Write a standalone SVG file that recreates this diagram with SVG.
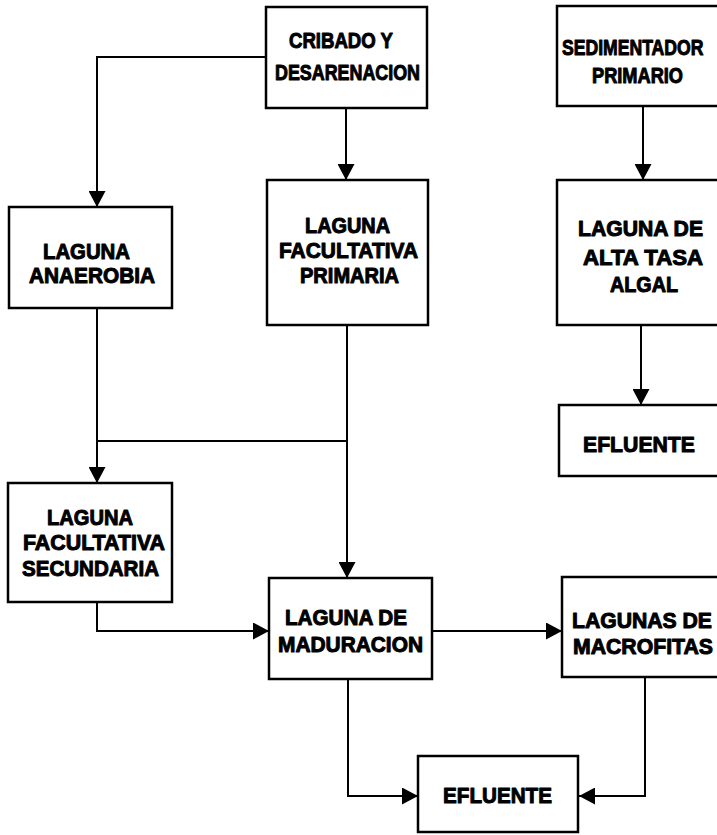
<svg xmlns="http://www.w3.org/2000/svg" width="717" height="835" viewBox="0 0 717 835">
<style>
.box{fill:#fff;stroke:#000;stroke-width:2.5}
.t{font-family:"Liberation Sans",Arial,sans-serif;font-weight:bold;font-size:22px;fill:#000;stroke:#000;stroke-width:1;stroke-linejoin:round}
.c{fill:none;stroke:#000;stroke-width:2}
</style>
<defs>
<marker id="ah" viewBox="0 0 16 17" refX="16" refY="8.5" markerWidth="16" markerHeight="17" markerUnits="userSpaceOnUse" orient="auto">
<path d="M0,0 L16,8.5 L0,17 z" fill="#000"/>
</marker>
</defs>
<rect width="717" height="835" fill="#fff"/>
<g id="connectors">
<path class="c" d="M266,57 H97 V207" marker-end="url(#ah)"/>
<path class="c" d="M346,108 V180" marker-end="url(#ah)"/>
<path class="c" d="M643,106 V180" marker-end="url(#ah)"/>
<path class="c" d="M641,325 V405" marker-end="url(#ah)"/>
<path class="c" d="M97,308 V483" marker-end="url(#ah)"/>
<path class="c" d="M97,441 H347"/>
<path class="c" d="M347,325 V578" marker-end="url(#ah)"/>
<path class="c" d="M97,602 V631 H269" marker-end="url(#ah)"/>
<path class="c" d="M432,631 H562" marker-end="url(#ah)"/>
<path class="c" d="M348,679 V796 H418" marker-end="url(#ah)"/>
<path class="c" d="M645,677 V796 H579" marker-end="url(#ah)"/>
</g>
<g id="cribado">
<rect class="box" x="266" y="7" width="161" height="101"/>
<text class="t" x="289" y="48" textLength="104" lengthAdjust="spacingAndGlyphs">CRIBADO Y</text>
<text class="t" x="275" y="80" textLength="145" lengthAdjust="spacingAndGlyphs">DESARENACION</text>
</g>
<g id="sedimentador">
<rect class="box" x="557" y="6" width="190" height="100"/>
<text class="t" transform="translate(562,55) scale(0.8,1)">SEDIMENTADOR</text>
<text class="t" x="592" y="83" textLength="91" lengthAdjust="spacingAndGlyphs">PRIMARIO</text>
</g>
<g id="anaerobia">
<rect class="box" x="9" y="207" width="163" height="101"/>
<text class="t" x="43" y="259" textLength="87" lengthAdjust="spacingAndGlyphs">LAGUNA</text>
<text class="t" x="29" y="283" textLength="126" lengthAdjust="spacingAndGlyphs">ANAEROBIA</text>
</g>
<g id="facultativa-primaria">
<rect class="box" x="267" y="180" width="161" height="145"/>
<text class="t" x="305" y="233" textLength="85" lengthAdjust="spacingAndGlyphs">LAGUNA</text>
<text class="t" x="279" y="258" textLength="139" lengthAdjust="spacingAndGlyphs">FACULTATIVA</text>
<text class="t" x="300" y="283" textLength="99" lengthAdjust="spacingAndGlyphs">PRIMARIA</text>
</g>
<g id="alta-tasa">
<rect class="box" x="557" y="180" width="190" height="145"/>
<text class="t" x="578" y="236" textLength="125" lengthAdjust="spacingAndGlyphs">LAGUNA DE</text>
<text class="t" x="583" y="265" textLength="120" lengthAdjust="spacingAndGlyphs">ALTA TASA</text>
<text class="t" x="610" y="292" textLength="68" lengthAdjust="spacingAndGlyphs">ALGAL</text>
</g>
<g id="efluente-1">
<rect class="box" x="559" y="405" width="190" height="71"/>
<text class="t" x="583" y="452" textLength="112" lengthAdjust="spacingAndGlyphs">EFLUENTE</text>
</g>
<g id="facultativa-secundaria">
<rect class="box" x="8" y="483" width="164" height="119"/>
<text class="t" x="47" y="525" textLength="86" lengthAdjust="spacingAndGlyphs">LAGUNA</text>
<text class="t" x="23" y="550" textLength="142" lengthAdjust="spacingAndGlyphs">FACULTATIVA</text>
<text class="t" x="22" y="576" textLength="137" lengthAdjust="spacingAndGlyphs">SECUNDARIA</text>
</g>
<g id="maduracion">
<rect class="box" x="269" y="578" width="163" height="101"/>
<text class="t" x="285" y="625" textLength="122" lengthAdjust="spacingAndGlyphs">LAGUNA DE</text>
<text class="t" x="278" y="652" textLength="145" lengthAdjust="spacingAndGlyphs">MADURACION</text>
</g>
<g id="macrofitas">
<rect class="box" x="562" y="577" width="190" height="100"/>
<text class="t" x="572" y="628" textLength="140" lengthAdjust="spacingAndGlyphs">LAGUNAS DE</text>
<text class="t" x="573" y="654" textLength="140" lengthAdjust="spacingAndGlyphs">MACROFITAS</text>
</g>
<g id="efluente-2">
<rect class="box" x="418" y="756" width="160" height="76"/>
<text class="t" x="443" y="803" textLength="109" lengthAdjust="spacingAndGlyphs">EFLUENTE</text>
</g>
</svg>
